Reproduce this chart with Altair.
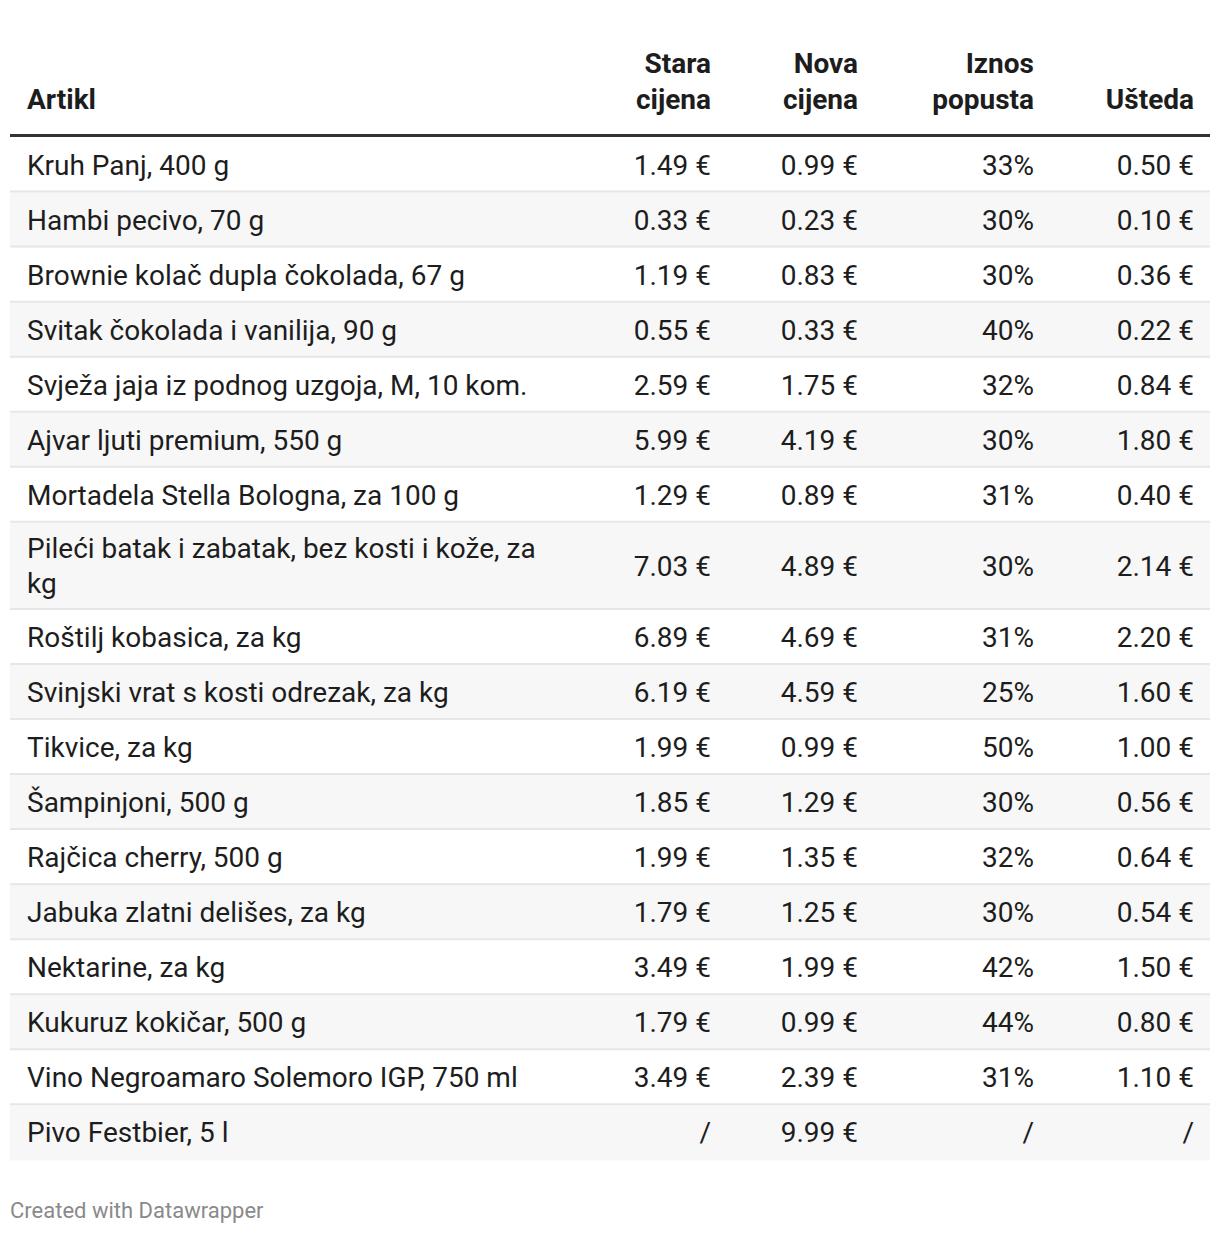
import textwrap
import altair as alt
import pandas as pd

# ---------------- data ----------------
zaglavlja = ["Artikl", "Stara cijena", "Nova cijena", "Iznos popusta", "Ušteda"]

artikli = [
    "Kruh Panj, 400 g",
    "Hambi pecivo, 70 g",
    "Brownie kolač dupla čokolada, 67 g",
    "Svitak čokolada i vanilija, 90 g",
    "Svježa jaja iz podnog uzgoja, M, 10 kom.",
    "Ajvar ljuti premium, 550 g",
    "Mortadela Stella Bologna, za 100 g",
    "Pileći batak i zabatak, bez kosti i kože, za kg",
    "Roštilj kobasica, za kg",
    "Svinjski vrat s kosti odrezak, za kg",
    "Tikvice, za kg",
    "Šampinjoni, 500 g",
    "Rajčica cherry, 500 g",
    "Jabuka zlatni delišes, za kg",
    "Nektarine, za kg",
    "Kukuruz kokičar, 500 g",
    "Vino Negroamaro Solemoro IGP, 750 ml",
    "Pivo Festbier, 5 l",
]
stara_cijena = [1.49, 0.33, 1.19, 0.55, 2.59, 5.99, 1.29, 7.03, 6.89, 6.19,
                1.99, 1.85, 1.99, 1.79, 3.49, 1.79, 3.49, None]
nova_cijena = [0.99, 0.23, 0.83, 0.33, 1.75, 4.19, 0.89, 4.89, 4.69, 4.59,
               0.99, 1.29, 1.35, 1.25, 1.99, 0.99, 2.39, 9.99]
iznos_popusta = [33, 30, 30, 40, 32, 30, 31, 30, 31, 25,
                 50, 30, 32, 30, 42, 44, 31, None]
usteda = [0.50, 0.10, 0.36, 0.22, 0.84, 1.80, 0.40, 2.14, 2.20, 1.60,
          1.00, 0.56, 0.64, 0.54, 1.50, 0.80, 1.10, None]
izvor = "Created with Datawrapper"

# ---------------- layout (page pixels) ----------------
ORIGIN = 8
W, H = 1202, 1218
FONT = "Roboto"
FS = 28
TEXT_COLOR = "#1d1d1d"
TABLE_L, TABLE_R = 10, 1210
LEFT_X = 27
RIGHT_X = [None, 711, 858, 1034, 1194]
HEADER_BASELINE = 109
HEADER_LH = 36
HEADER_LINE_Y = 135.5
FIRST_ROW_TOP = 137.5
ROW_H = 55.05
TALL_EXTRA = 32
LINE_LH = 35
BASE_OFF = 9.5
FOOTER_BASELINE = 1218


def fmt_eur(v):
    return "/" if v is None else f"{v:.2f} €"


def fmt_pct(v):
    return "/" if v is None else f"{v:d}%"


def X(v):
    return v - ORIGIN


def Y(v):
    return v - ORIGIN


xs = alt.Scale(domain=[0, W], range=[0, W], zero=False, nice=False)
ys = alt.Scale(domain=[0, H], range=[0, H], zero=False, nice=False)

# rows
row_recs, sep_recs, cell_recs = [], [], []
top = FIRST_ROW_TOP
n = len(artikli)
for i, name in enumerate(artikli):
    lines = textwrap.wrap(name, 45)
    h = ROW_H + (len(lines) - 1) * TALL_EXTRA
    bottom = top + h
    center = (top + bottom) / 2
    row_recs.append({"y": Y(top), "y2": Y(bottom), "x": X(TABLE_L), "x2": X(TABLE_R),
                     "stripe": "odd" if i % 2 == 0 else "even"})
    if i < n - 1:
        sep_recs.append({"y": Y(bottom - 1), "x": X(TABLE_L), "x2": X(TABLE_R)})
    for k, ln in enumerate(lines):
        yy = center + (k - (len(lines) - 1) / 2) * LINE_LH + BASE_OFF
        cell_recs.append({"x": X(LEFT_X), "y": Y(yy), "t": ln, "al": "left"})
    vals = [fmt_eur(stara_cijena[i]), fmt_eur(nova_cijena[i]),
            fmt_pct(iznos_popusta[i]), fmt_eur(usteda[i])]
    for c, v in enumerate(vals):
        cell_recs.append({"x": X(RIGHT_X[c + 1]), "y": Y(center + BASE_OFF),
                          "t": v, "al": "right"})
    top = bottom

hdr_recs = []
for c, hname in enumerate(zaglavlja):
    lines = textwrap.wrap(hname, 8)
    for k, ln in enumerate(lines):
        yy = HEADER_BASELINE - (len(lines) - 1 - k) * HEADER_LH
        hdr_recs.append({"x": X(LEFT_X if c == 0 else RIGHT_X[c]), "y": Y(yy),
                         "t": ln, "al": "left" if c == 0 else "right"})

rows_df = pd.DataFrame(row_recs)
sep_df = pd.DataFrame(sep_recs)
cells_df = pd.DataFrame(cell_recs)
hdr_df = pd.DataFrame(hdr_recs)

bg = alt.Chart(rows_df).mark_rect(strokeWidth=0).encode(
    x=alt.X("x:Q", scale=xs, axis=None),
    x2="x2:Q",
    y=alt.Y("y:Q", scale=ys, axis=None),
    y2="y2:Q",
    color=alt.Color("stripe:N", scale=alt.Scale(domain=["odd", "even"],
                                                range=["#ffffff", "#f7f7f7"]),
                    legend=None),
)

seps = alt.Chart(sep_df).mark_rule(color="#e6e6e6", strokeWidth=2).encode(
    x=alt.X("x:Q", scale=xs, axis=None),
    x2="x2:Q",
    y=alt.Y("y:Q", scale=ys, axis=None),
)

head_line = alt.Chart(pd.DataFrame([{"y": Y(HEADER_LINE_Y), "x": X(TABLE_L), "x2": X(TABLE_R)}])).mark_rule(
    color="#333333", strokeWidth=3).encode(
    x=alt.X("x:Q", scale=xs, axis=None),
    x2="x2:Q",
    y=alt.Y("y:Q", scale=ys, axis=None),
)


def text_layer(df, align, **kw):
    return alt.Chart(df[df["al"] == align]).mark_text(
        align=align, baseline="alphabetic", font=FONT, color=TEXT_COLOR, **kw
    ).encode(
        x=alt.X("x:Q", scale=xs, axis=None),
        y=alt.Y("y:Q", scale=ys, axis=None),
        text="t:N",
    )


body_l = text_layer(cells_df, "left", fontSize=FS)
body_r = text_layer(cells_df, "right", fontSize=FS)
head_l = text_layer(hdr_df, "left", fontSize=FS, fontWeight="bold")
head_r = text_layer(hdr_df, "right", fontSize=FS, fontWeight="bold")

footer = alt.Chart(pd.DataFrame([{"x": X(TABLE_L), "y": Y(FOOTER_BASELINE), "t": izvor}])).mark_text(
    align="left", baseline="alphabetic", font=FONT, fontSize=22, color="#8a8a8a"
).encode(
    x=alt.X("x:Q", scale=xs, axis=None),
    y=alt.Y("y:Q", scale=ys, axis=None),
    text="t:N",
)

chart = alt.layer(bg, seps, head_line, body_l, body_r, head_l, head_r, footer).properties(
    width=W, height=H,
    padding=0,
).configure(background="white").configure_view(strokeWidth=0, stroke="transparent")

chart.save("out.html", embed_options={"renderer": "svg", "actions": False})
